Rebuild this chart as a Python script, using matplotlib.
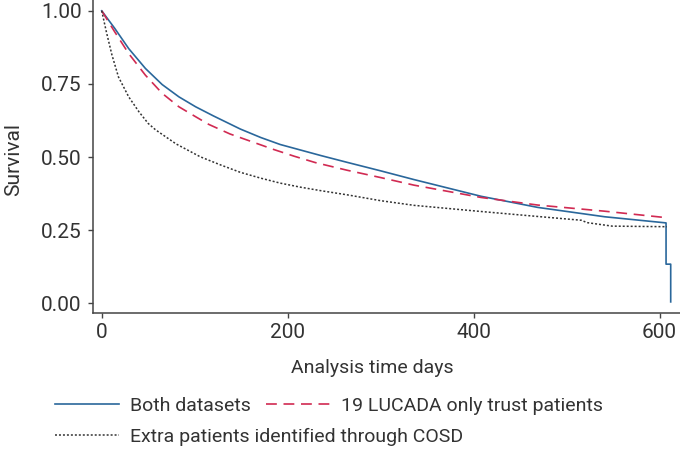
import matplotlib
matplotlib.use("Agg")
import matplotlib.pyplot as plt
from matplotlib import font_manager

names = {f.name for f in font_manager.fontManager.ttflist}
fam = [n for n in ["Liberation Sans Narrow", "Roboto", "DejaVu Sans"] if n in names]
plt.rcParams["font.family"] = fam

# ---------------- data ----------------
both_days = [0, 14, 29, 47, 65, 83, 101, 120, 149, 171, 192, 214, 236, 264, 300,
             336, 408, 469, 541, 607, 607, 612, 612]
both_surv = [1.0, 0.940, 0.871, 0.803, 0.748, 0.706, 0.672, 0.641, 0.596, 0.567,
             0.543, 0.524, 0.505, 0.482, 0.453, 0.423, 0.366, 0.328, 0.296, 0.275,
             0.134, 0.134, 0.005]

lucada_days = [0, 14, 29, 47, 65, 83, 101, 115, 138, 162, 185, 207, 230, 264, 300, 336,
               408, 469, 541, 607]
lucada_surv = [1.0, 0.928, 0.854, 0.780, 0.718, 0.672, 0.638, 0.612, 0.579, 0.552, 0.526,
               0.503, 0.481, 0.455, 0.430, 0.404, 0.362, 0.336, 0.315, 0.293]

cosd_days = [0, 5, 11, 18, 29, 40, 50, 58, 80, 106, 128, 149, 171, 192, 214, 236, 264,
             300, 336, 408, 469, 516, 522, 549, 608]
cosd_surv = [1.0, 0.928, 0.849, 0.774, 0.706, 0.655, 0.615, 0.593, 0.545, 0.501, 0.473,
             0.448, 0.428, 0.411, 0.397, 0.385, 0.371, 0.351, 0.335, 0.314, 0.297,
             0.284, 0.276, 0.264, 0.262]

labels = ["Both datasets", "19 LUCADA only trust patients",
          "Extra patients identified through COSD"]
xticks = [0, 200, 400, 600]
yticks = [0.0, 0.25, 0.5, 0.75, 1.0]
ytick_labels = ["0.00", "0.25", "0.50", "0.75", "1.00"]

# ---------------- figure ----------------
W, H = 680, 454
fig = plt.figure(figsize=(W / 100, H / 100), dpi=100)
ax = fig.add_axes([92.7 / W, 1 - 313.3 / H, (W - 92.7) / W, 313.3 / H])

blue = "#2a679b"
red = "#d12a52"
dark = "#333333"

l1, = ax.plot(both_days, both_surv, color=blue, lw=1.2)
l2, = ax.plot(lucada_days, lucada_surv, color=red, lw=1.2, dashes=(6.5, 4))
l3, = ax.plot(cosd_days, cosd_surv, color=dark, lw=1.1, dashes=(1.3, 1.3))

ax.set_xlim(-9.7, 622)
ax.set_ylim(-0.034, 1.037)
ax.set_xticks(xticks)
ax.set_yticks(yticks)
ax.set_yticklabels(ytick_labels)

for s in ["top", "right"]:
    ax.spines[s].set_visible(False)
for s in ["left", "bottom"]:
    ax.spines[s].set_color("#444444")
    ax.spines[s].set_linewidth(1.1)

ax.tick_params(axis="both", direction="out", length=3.5, width=1.0, color="#444444",
               labelsize=15, labelcolor="#333333")
ax.tick_params(axis="y", pad=4.5)
ax.tick_params(axis="x", pad=3.5)

ax.set_xlabel("Analysis time days", fontsize=14, color="#333333")
ax.xaxis.set_label_coords((372 - 92.7) / (W - 92.7), (313.3 - 368) / 313.3)
ax.xaxis.label.set_va("center")
ax.set_ylabel("Survival", fontsize=15, color="#333333")
ax.yaxis.set_label_coords((14 - 92.7) / (W - 92.7), (313.3 - 160) / 313.3)
ax.yaxis.label.set_va("center")

common = dict(frameon=False, fontsize=14, borderpad=0, borderaxespad=0,
              handlelength=3.3, handletextpad=0.55, columnspacing=0.8,
              loc="center left", labelcolor="#333333")
leg1 = fig.legend([l1, l2], labels[:2], ncol=2,
                  bbox_to_anchor=(55 / W, 1 - 406 / H), **common)
leg2 = fig.legend([l3], labels[2:], ncol=1,
                  bbox_to_anchor=(55 / W, 1 - 437 / H), **common)

fig.savefig("out.png", dpi=100)
